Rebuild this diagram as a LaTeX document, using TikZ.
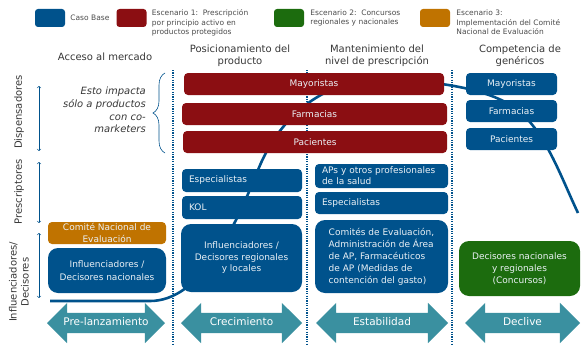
\documentclass[tikz,border=0pt]{standalone}
\usepackage{fontspec}
\setmainfont{DejaVu Sans}
\usetikzlibrary{positioning,shapes.arrows,decorations.pathreplacing}
\definecolor{casoblue}{RGB}{0,82,140}
\definecolor{esconered}{RGB}{139,14,18}
\definecolor{esctwogreen}{RGB}{28,108,14}
\definecolor{escthreeorange}{RGB}{192,115,0}
\definecolor{phaseteal}{RGB}{58,144,160}
\definecolor{headgray}{RGB}{55,55,55}
\definecolor{leggray}{RGB}{75,75,75}

\begin{document}
\begin{tikzpicture}[x=1pt,y=-1pt,
  box/.style={rounded corners=4pt, text=white!92!casoblue, font=\fontsize{9}{12}\selectfont, inner sep=2pt},
  casobox/.style={box, fill=casoblue},
  redbox/.style={box, fill=esconered, minimum width=263pt, minimum height=22pt},
  leftbox/.style={casobox, align=left, inner xsep=7pt, text width=#1},
  bigbox/.style={box, rounded corners=10pt, align=center},
  swatch/.style={rounded corners=3pt, minimum width=30pt, minimum height=18pt, inner sep=0pt},
  legtext/.style={text=leggray, font=\fontsize{7.5}{9.5}\selectfont, align=left, inner sep=0pt},
  colhead/.style={text=headgray, font=\fontsize{10}{12}\selectfont, align=center, inner sep=0pt},
  axislabel/.style={text=headgray, font=\fontsize{10}{12}\selectfont, align=center, rotate=90, inner sep=0pt},
  phase/.style={shape=double arrow, fill=phaseteal, text=white, double arrow head extend=10pt,
    inner xsep=0pt, inner ysep=5pt, text height=7.5pt, text depth=2.5pt,
    font=\fontsize{10.5}{12}\selectfont},
  divider/.style={casoblue, line width=1.6pt, dash pattern=on 1.2pt off 1.2pt},
  lifecycle/.style={casoblue, line width=2.6pt},
  axisarrow/.style={casoblue, line width=0.6pt, <->}
]
\useasboundingbox (0,0) rectangle (588,345);

% legend
\node[swatch, fill=casoblue] (legCaso) at (50,18) {};
\node[legtext, right=5pt of legCaso] (legCasoTxt) {Caso Base};
\node[swatch, fill=esconered] (legEscUno) at (131.5,18) {};
\node[legtext, right=5pt of legEscUno.north east, anchor=north west, yshift=-1pt] (legEscUnoTxt)
  {Escenario 1:\ \ Prescripción\\por principio activo en\\productos protegidos};
\node[swatch, fill=esctwogreen] (legEscDos) at (289,18) {};
\node[legtext, right=6pt of legEscDos] (legEscDosTxt) {Escenario 2:\ \ Concursos\\regionales y nacionales};
\node[swatch, fill=escthreeorange] (legEscTres) at (435,18) {};
\node[legtext, right=6pt of legEscTres.north east, anchor=north west, yshift=-1pt] (legEscTresTxt)
  {Escenario 3:\\Implementación del Comité\\Nacional de Evaluación};

% column headings
\node[colhead] (headAcceso) at (105,57) {Acceso al mercado};
\node[colhead] (headPosic) at (240,56) {Posicionamiento del\\producto};
\node[colhead] (headMant) at (377,56) {Mantenimiento del\\nivel de prescripción};
\node[colhead] (headComp) at (520,56) {Competencia de\\genéricos};

% dividers and life cycle curve (behind the boxes)
\foreach \xd in {173,307,452}
  \draw[divider] (\xd,70) -- (\xd,345);
\draw[lifecycle] (50,301) -- (150,301)
  .. controls (200,301) and (234,230) .. (258,170)
  .. controls (278,120) and (320,80) .. (380,80)
  .. controls (440,80) and (490,90) .. (515,108)
  .. controls (545,130) and (560,175) .. (578,213);

% left axis
\node[axislabel] (axDisp) at (19,112) {Dispensadores};
\node[axislabel] (axPresc) at (19,192) {Prescriptores};
\node[axislabel] (axInfl) at (19,282) {Influenciadores/\\Decisores};
\draw[axisarrow] (39,86) -- (39,151);
\draw[axisarrow] (39,162) -- (39,223);
\draw[axisarrow] (39,233) -- (39,298);

% comment on co-marketers
\node[text=headgray, font=\fontsize{10}{12.7}\selectfont\itshape, align=right, inner sep=0pt,
  anchor=east] (notaComark) at (146,110) {Esto impacta\\sólo a productos\\con co-\\marketers};
\draw[casoblue, line width=0.6pt, decorate, decoration={brace, amplitude=12pt}] (165,153) -- (165,73);

% scenario 1 boxes
\node[redbox, minimum width=260pt] (mayorRed) at (314,84) {Mayoristas};
\node[redbox, minimum width=265pt] (farmRed) at (314.5,114) {Farmacias};
\node[redbox, minimum width=264pt] (pacRed) at (315,142) {Pacientes};

% acceso al mercado
\node[bigbox, fill=escthreeorange, minimum width=118pt, minimum height=22pt, rounded corners=4pt,
  inner ysep=0.5pt] (comiteNac) at (107,233) {Comité Nacional de\\Evaluación};
\node[bigbox, fill=casoblue, minimum width=118pt, minimum height=45pt, font=\fontsize{9}{13}\selectfont]
  (inflNac) at (107,270.5) {Influenciadores /\\Decisores nacionales};

% posicionamiento
\node[leftbox=106pt, minimum height=23pt] (especPos) at (242,180.5) {Especialistas};
\node[leftbox=106pt, minimum height=23pt] (kolPos) at (242,207.5) {KOL};
\node[bigbox, fill=casoblue, minimum width=121pt, minimum height=68pt, font=\fontsize{9}{11.5}\selectfont]
  (inflReg) at (241.5,258) {Influenciadores /\\Decisores regionales\\y locales};

% mantenimiento
\node[leftbox=119pt, minimum height=24pt, inner ysep=1pt, font=\fontsize{9}{11}\selectfont]
  (apsMant) at (381.5,176) {APs y otros profesionales\\de la salud};
\node[leftbox=119pt, minimum height=22pt] (especMant) at (381.5,203) {Especialistas};
\node[casobox, rounded corners=10pt, align=left, minimum width=133pt, minimum height=73pt]
  (comitesMant) at (381.5,256.5)
  {Comités de Evaluación,\\Administración de Área\\de AP, Farmacéuticos\\de AP (Medidas de\\contención del gasto)};

% competencia de genericos
\node[casobox, minimum width=91pt, minimum height=22pt] (mayorComp) at (511.5,84) {Mayoristas};
\node[casobox, minimum width=91pt, minimum height=22pt] (farmComp) at (511.5,111) {Farmacias};
\node[casobox, minimum width=91pt, minimum height=22pt] (pacComp) at (511.5,139) {Pacientes};
\node[bigbox, fill=esctwogreen, minimum width=121pt, minimum height=55pt, font=\fontsize{9}{12}\selectfont]
  (concursos) at (519.5,268.5) {Decisores nacionales\\y regionales\\(Concursos)};

% phases
\node[phase, minimum height=118pt] (preLanz) at (106,323) {Pre-lanzamiento};
\node[phase, minimum height=121pt] (crecim) at (241.5,323) {Crecimiento};
\node[phase, minimum height=132pt] (estab) at (382,323) {Estabilidad};
\node[phase, minimum height=115pt] (decl) at (522.5,323) {Declive};
\end{tikzpicture}
\end{document}
